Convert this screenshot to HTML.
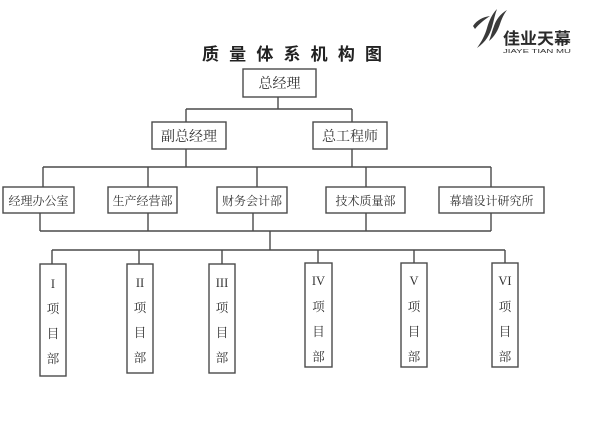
<!DOCTYPE html>
<html><head><meta charset="utf-8">
<style>
html,body{margin:0;padding:0;background:#fff;}
svg{display:block;}
.t{font-family:"Liberation Serif","Noto Serif CJK SC",serif;fill:#333;font-size:12.5px;}
</style></head>
<body>
<svg width="600" height="426" viewBox="0 0 600 426" xmlns="http://www.w3.org/2000/svg">
<rect width="600" height="426" fill="#fff"/>
<!-- title -->
<text x="202" y="60" font-family="'Liberation Sans','Noto Sans CJK SC',sans-serif" font-weight="700" font-size="17" fill="#222" textLength="180" lengthAdjust="spacing">质量体系机构图</text>
<!-- logo -->
<g fill="#3a3a3a">
<path d="M473,26 C477,20 483,17 490,16 C484,20 479,24 475,29 Z"/>
<path d="M497,9 C492,14 489,21 487,28 C485,35 482,41 477,48 C486,42 490,34 492,27 C494,20 495,14 497,9 Z"/>
<path d="M507,10 C500,14 496,20 494,26 C492,31 491,36 489,41 C495,36 498,30 500,24 C502,18 504,14 507,10 Z"/>
</g>
<text x="503" y="44" font-family="'Liberation Sans','Noto Sans CJK SC',sans-serif" font-weight="700" font-size="16" fill="#2a2a2a" textLength="68" lengthAdjust="spacingAndGlyphs">佳业天幕</text>
<text x="503" y="53" font-family="'Liberation Sans',sans-serif" font-size="5.5" fill="#333" textLength="68" lengthAdjust="spacingAndGlyphs">JIAYE TIAN MU</text>

<g stroke="#4a4a4a" stroke-width="1.4" fill="none">
<!-- top connectors -->
<line x1="278" y1="97" x2="278" y2="109"/>
<line x1="186" y1="109" x2="352" y2="109"/>
<line x1="186" y1="109" x2="186" y2="122"/>
<line x1="352" y1="109" x2="352" y2="122"/>
<line x1="186" y1="149" x2="186" y2="167"/>
<line x1="352" y1="149" x2="352" y2="167"/>
<line x1="43" y1="167" x2="491" y2="167"/>
<line x1="43" y1="167" x2="43" y2="187"/>
<line x1="148" y1="167" x2="148" y2="187"/>
<line x1="257" y1="167" x2="257" y2="187"/>
<line x1="366" y1="167" x2="366" y2="187"/>
<line x1="491" y1="167" x2="491" y2="187"/>
<!-- bottom connectors -->
<line x1="40" y1="213" x2="40" y2="231"/>
<line x1="148" y1="213" x2="148" y2="231"/>
<line x1="253" y1="213" x2="253" y2="231"/>
<line x1="366" y1="213" x2="366" y2="231"/>
<line x1="491" y1="213" x2="491" y2="231"/>
<line x1="40" y1="231" x2="491" y2="231"/>
<line x1="270" y1="231" x2="270" y2="250"/>
<line x1="52" y1="250" x2="505" y2="250"/>
<line x1="52" y1="250" x2="52" y2="264"/>
<line x1="139" y1="250" x2="139" y2="264"/>
<line x1="222" y1="250" x2="222" y2="264"/>
<line x1="318" y1="250" x2="318" y2="263"/>
<line x1="414" y1="250" x2="414" y2="263"/>
<line x1="505" y1="250" x2="505" y2="263"/>
<!-- boxes -->
<rect x="243" y="69" width="73" height="28"/>
<rect x="152" y="122" width="74" height="27"/>
<rect x="313" y="122" width="74" height="27"/>
<rect x="3" y="187" width="71" height="26"/>
<rect x="108" y="187" width="69" height="26"/>
<rect x="217" y="187" width="70" height="26"/>
<rect x="326" y="187" width="79" height="26"/>
<rect x="439" y="187" width="105" height="26"/>
<rect x="40" y="264" width="26" height="112"/>
<rect x="127" y="264" width="26" height="109"/>
<rect x="209" y="264" width="26" height="109"/>
<rect x="305" y="263" width="27" height="104"/>
<rect x="401" y="263" width="26" height="104"/>
<rect x="492" y="263" width="26" height="104"/>
</g>

<g class="t" text-anchor="middle">
<text x="279.5" y="88" font-size="14">总经理</text>
<text x="189" y="141" font-size="14">副总经理</text>
<text x="350" y="141" font-size="14">总工程师</text>
<text x="38.5" y="205" font-size="12">经理办公室</text>
<text x="142.5" y="205" font-size="12">生产经营部</text>
<text x="252" y="205" font-size="12">财务会计部</text>
<text x="365.5" y="205" font-size="12">技术质量部</text>
<text x="491.5" y="205" font-size="12">幕墙设计研究所</text>

<text x="53" y="288">I</text><text x="53" y="313">项</text><text x="53" y="338">目</text><text x="53" y="363">部</text>
<text x="140" y="287">II</text><text x="140" y="312">项</text><text x="140" y="337">目</text><text x="140" y="362">部</text>
<text x="222" y="287">III</text><text x="222" y="312">项</text><text x="222" y="337">目</text><text x="222" y="362">部</text>
<text x="318.5" y="285">IV</text><text x="318.5" y="311">项</text><text x="318.5" y="336">目</text><text x="318.5" y="361">部</text>
<text x="414" y="285">V</text><text x="414" y="311">项</text><text x="414" y="336">目</text><text x="414" y="361">部</text>
<text x="505" y="285">VI</text><text x="505" y="311">项</text><text x="505" y="336">目</text><text x="505" y="361">部</text>
</g>
</svg>
</body></html>
